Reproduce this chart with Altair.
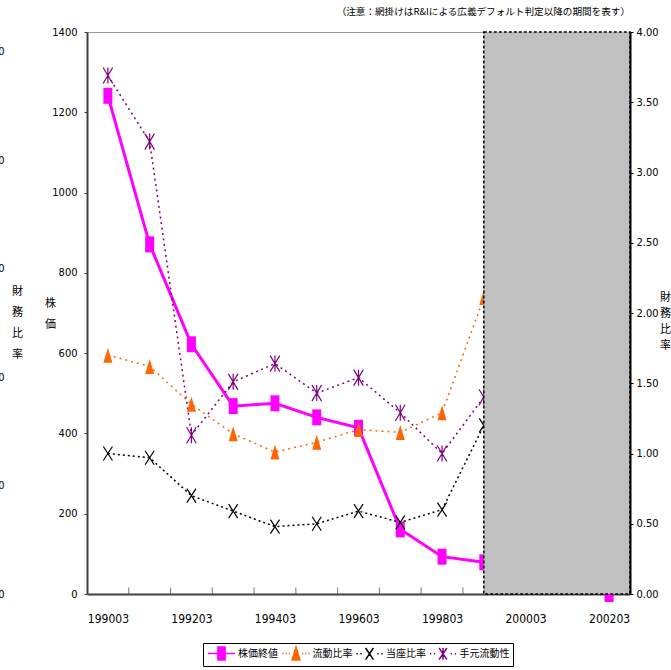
import altair as alt
import pandas as pd

# ---------------- data ----------------
categories = ["199003", "199103", "199203", "199303", "199403", "199503", "199603",
              "199703", "199803", "199903", "200003", "200103", "200203"]
label_cats = ["199003", "199203", "199403", "199603", "199803", "200003", "200203"]
series_names = ["株価終値", "流動比率", "当座比率", "手元流動性"]

stock_cats = ["199003", "199103", "199203", "199303", "199403", "199503", "199603",
              "199703", "199803", "199903", "200203"]
stock_price = [1241, 871, 622, 468, 475, 440, 414, 161, 93, 79, 0]          # 株価終値 (left)

ratio_cats = ["199003", "199103", "199203", "199303", "199403", "199503", "199603",
              "199703", "199803", "199903"]
current_ratio = [1.70, 1.62, 1.35, 1.14, 1.01, 1.08, 1.17, 1.15, 1.29, 2.11]  # 流動比率
quick_ratio = [1.00, 0.97, 0.70, 0.59, 0.48, 0.50, 0.59, 0.51, 0.60, 1.20]    # 当座比率
liquidity = [3.69, 3.22, 1.13, 1.51, 1.64, 1.43, 1.54, 1.29, 1.00, 1.40]      # 手元流動性

shade_start = "199903"
left_ticks = [0, 200, 400, 600, 800, 1000, 1200, 1400]
right_ticks = [0, 0.5, 1, 1.5, 2, 2.5, 3, 3.5, 4]
outer_ticks = [0, 0.5, 1, 1.5, 2, 2.5]
note = "（注意：網掛けはR&Iによる広義デフォルト判定以降の期間を表す）"

# ---------------- styling ----------------
NUM_FONT = "Liberation Sans Narrow, DejaVu Sans Condensed, sans-serif"
CJK_FONT = "Noto Sans CJK JP"
MAGENTA, ORANGE, BLACK, PURPLE = "#FF00FF", "#FF6600", "#000000", "#800080"

SQ = "M-0.56,-1 L0.56,-1 L0.56,1 L-0.56,1 Z"
TRI = "M0,-1 L0.6,1 L-0.6,1 Z"
XS = "M-0.65,-1 L0.65,1 M0.65,-1 L-0.65,1"
AST = "M-0.6,-1 L0.6,1 M0.6,-1 L-0.6,1 M0,-1 L0,1"

def dots(segs):
    return " ".join(f"M{a},0 L{b},0" for a, b in segs)

LEG_SQ = "M-2.1,0 L2.1,0 M-0.55,-1 L0.55,-1 L0.55,1 L-0.55,1 Z"
LEG_TRI = dots([(-2.1, -1.9), (-1.6, -1.4), (-1.1, -0.9)]) + " M0,-1 L0.6,1 L-0.6,1 Z " + \
    dots([(0.9, 1.1), (1.4, 1.6), (1.9, 2.1)])
LEG_X = dots([(-2.0, -1.8), (-1.4, -1.2)]) + " M-0.6,-0.9 L0.6,0.9 M0.6,-0.9 L-0.6,0.9 " + \
    dots([(1.2, 1.4), (1.8, 2.0)])
LEG_AST = dots([(-2.0, -1.8), (-1.4, -1.2)]) + " M-0.6,-0.9 L0.6,0.9 M0.6,-0.9 L-0.6,0.9 M0,-0.9 L0,0.9 " + \
    dots([(1.2, 1.4), (1.8, 2.0)])

W, H = 543, 562
n = len(categories)
step = W / n
xscale = alt.Scale(type="point", domain=categories, padding=0.5)

x_axis = alt.Axis(
    orient="bottom", values=label_cats, labelOverlap=False, ticks=False, grid=False, labelPadding=19,
    labelFont=NUM_FONT, labelFontSize=12, labelColor="black", domainColor="#404040",
    domainWidth=2, title=None, labelAngle=0,
)

def ly():
    return alt.Scale(domain=[0, 1400], nice=False, zero=True)

def ry():
    return alt.Scale(domain=[0, 4], nice=False, zero=True)

# ---------------- 株価 (left scale) ----------------
stock_df = pd.DataFrame({"c": stock_cats, "v": stock_price})
left_axis = alt.Axis(
    orient="left", values=left_ticks, format="d", grid=False, tickSize=3, tickColor="#404040",
    labelPadding=7, labelFont=NUM_FONT, labelFontSize=11, labelColor="black",
    domainColor="#404040", domainWidth=2,
    title=["株", "価"], titleAngle=0, titleX=-37, titleY=265, titleAlign="center",
    titleBaseline="top", titleFont=CJK_FONT, titleFontSize=11, titleFontWeight="normal",
    titleLineHeight=21, titleColor="black",
)
stock_line = alt.Chart(stock_df).mark_line(color=MAGENTA, strokeWidth=3).encode(
    x=alt.X("c:O", scale=xscale, axis=x_axis),
    y=alt.Y("v:Q", scale=ly(), axis=left_axis),
)
stock_pts = alt.Chart(stock_df).mark_point(shape=SQ, size=256, filled=True, color=MAGENTA, opacity=1).encode(
    x=alt.X("c:O", scale=xscale, axis=None),
    y=alt.Y("v:Q", scale=ly(), axis=None),
)
bounds_df = pd.DataFrame({"c": categories[:-1], "z": [0] * (n - 1)})
x_ticks = alt.Chart(bounds_df).mark_tick(
    orient="vertical", size=7, thickness=1, color="#404040", yOffset=-3, xOffset=step / 2
).encode(
    x=alt.X("c:O", scale=xscale, axis=None),
    y=alt.Y("z:Q", scale=ly(), axis=None),
)

# ---------------- 財務比率 (right scale) ----------------
right_axis = alt.Axis(
    orient="right", values=right_ticks, format=".2f", grid=False, tickSize=3, tickColor="black",
    labelPadding=3, labelFont=NUM_FONT, labelFontSize=11, labelColor="black",
    domainColor="black", domainWidth=2, zindex=1,
    title=["財", "務", "比", "率"], titleAngle=0, titleX=35, titleY=259, titleAlign="center",
    titleBaseline="top", titleFont=CJK_FONT, titleFontSize=11, titleFontWeight="normal",
    titleLineHeight=16, titleColor="black",
)

def ratio_layers(values, color, dash, shape, size, filled, sw, axis):
    df = pd.DataFrame({"c": ratio_cats, "v": values})
    line = alt.Chart(df).mark_line(color=color, strokeWidth=1.5, strokeDash=dash).encode(
        x=alt.X("c:O", scale=xscale, axis=None),
        y=alt.Y("v:Q", scale=ry(), axis=axis),
    )
    pts = alt.Chart(df).mark_point(shape=shape, size=size, filled=filled, color=color,
                                   strokeWidth=sw, opacity=1).encode(
        x=alt.X("c:O", scale=xscale, axis=None),
        y=alt.Y("v:Q", scale=ry(), axis=None),
    )
    return line, pts

cl, cp = ratio_layers(current_ratio, ORANGE, [2, 4], TRI, 225, True, 1, right_axis)
ql, qp = ratio_layers(quick_ratio, BLACK, [2, 3], XS, 196, False, 1.2, None)
ll, lp = ratio_layers(liquidity, PURPLE, [2, 3.5], AST, 256, False, 1.2, None)

# ---------------- shaded period ----------------
shade_df = pd.DataFrame({"x0": [shade_start], "x1": [categories[-1]]})
shade = alt.Chart(shade_df).mark_rect(
    fill="#C0C0C0", stroke="black", strokeDash=[3, 2], strokeWidth=1.5, x2Offset=step / 2
).encode(
    x=alt.X("x0:O", scale=xscale, axis=None),
    x2="x1",
)

# ---------------- outer (cut-off) axis ----------------
outer_df = pd.DataFrame({"v": [0.0]})
outer = alt.Chart(outer_df).mark_point(opacity=0).encode(
    y=alt.Y("v:Q", scale=alt.Scale(domain=[0, 2.59], nice=False), axis=alt.Axis(
        orient="left", offset=83, values=outer_ticks, format=".2f", domain=False, ticks=False,
        grid=False, labelPadding=0, labelFont=NUM_FONT, labelFontSize=11, labelColor="black",
        title=["財", "務", "比", "率"], titleAngle=0, titleX=13, titleY=253, titleAlign="center",
        titleBaseline="top", titleFont=CJK_FONT, titleFontSize=11, titleFontWeight="normal",
        titleLineHeight=21, titleColor="black",
    )),
).transform_filter("false")

# ---------------- legend ----------------
leg_df = pd.DataFrame({"s": series_names})
leg_colors = [MAGENTA, ORANGE, BLACK, PURPLE]
leg_shapes = [LEG_SQ, LEG_TRI, LEG_X, LEG_AST]
legend_def = alt.Legend(
    title=None, orient="none", legendX=116, legendY=611, direction="horizontal",
    strokeColor="black", padding=3, symbolSize=169, symbolStrokeWidth=1.5,
    symbolOffset=8, labelOffset=9, columnPadding=0.5, labelFont=CJK_FONT, labelFontSize=10,
    labelColor="black",
)
legend_layer = alt.Chart(leg_df).mark_point(filled=True, opacity=1).encode(
    fill=alt.Fill("s:N", scale=alt.Scale(domain=series_names, range=leg_colors), legend=legend_def),
    stroke=alt.Stroke("s:N", scale=alt.Scale(domain=series_names, range=leg_colors), legend=legend_def),
    shape=alt.Shape("s:N", scale=alt.Scale(domain=series_names, range=leg_shapes), legend=legend_def),
).transform_filter("false")

chart = alt.layer(
    stock_line, stock_pts, x_ticks, cl, ql, ll, cp, qp, lp, shade, outer, legend_layer
).resolve_scale(
    y="independent"
).resolve_axis(
    x="independent"
).properties(
    width=W, height=H,
    autosize=alt.AutoSizeParams(type="none"),
    padding={"left": 87, "top": 32, "right": 41, "bottom": 76},
    title=alt.Title(note, anchor="end", frame="group", font=CJK_FONT, fontSize=9.6,
                    fontWeight="normal", color="black", offset=9),
).configure_view(stroke="#999999", strokeWidth=1)

chart.save("out.html", embed_options={"renderer": "svg", "actions": False})
